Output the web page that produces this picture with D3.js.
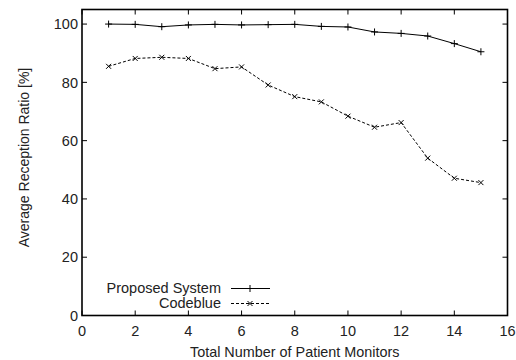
<!DOCTYPE html>
<html>
<head>
<meta charset="utf-8">
<script src="https://cdn.jsdelivr.net/npm/d3@7"></script>
<style>
  body { margin: 0; background: #fff; }
  text { font-family: "Liberation Sans", Arial, sans-serif; fill: #222; }
</style>
</head>
<body>
<div id="chart"></div>
<script>
// data
const monitors = [1, 2, 3, 4, 5, 6, 7, 8, 9, 10, 11, 12, 13, 14, 15];
const proposed = [100, 99.9, 99.1, 99.7, 99.9, 99.7, 99.8, 99.9, 99.2, 99.0, 97.3, 96.8, 95.9, 93.3, 90.5];
const codeblue = [85.5, 88.2, 88.6, 88.2, 84.7, 85.3, 79.1, 75.1, 73.3, 68.4, 64.6, 66.2, 54.0, 47.1, 45.6];
const xTicks = [0, 2, 4, 6, 8, 10, 12, 14, 16];
const yTicks = [0, 20, 40, 60, 80, 100];
const seriesNames = ["Proposed System", "Codeblue"];

function main() {
    const width = 516;
    const height = 360;
    const margin = { left: 82, right: 8.5, top: 9.5, bottom: 44.5 };

    const svg = d3.select('#chart').append('svg')
        .attr('width', width)
        .attr('height', height);

    const x = d3.scaleLinear().domain([0, 16]).range([margin.left, width - margin.right]);
    const y = d3.scaleLinear().domain([0, 105]).range([height - margin.bottom, margin.top]);

    const fontSize = '14.5px';
    const tickLen = 5;

    // tick marks on all four sides, pointing inward
    const ticks = svg.append('g').attr('stroke', '#000').attr('stroke-width', 1);
    xTicks.forEach(t => {
        ticks.append('line').attr('x1', x(t)).attr('x2', x(t))
            .attr('y1', y(0)).attr('y2', y(0) - tickLen);
        ticks.append('line').attr('x1', x(t)).attr('x2', x(t))
            .attr('y1', y(105)).attr('y2', y(105) + tickLen);
    });
    yTicks.forEach(t => {
        ticks.append('line').attr('x1', x(0)).attr('x2', x(0) + tickLen)
            .attr('y1', y(t)).attr('y2', y(t));
        ticks.append('line').attr('x1', x(16)).attr('x2', x(16) - tickLen)
            .attr('y1', y(t)).attr('y2', y(t));
    });

    // tick labels
    svg.append('g').selectAll('text')
        .data(xTicks).enter().append('text')
        .attr('x', d => x(d))
        .attr('y', 335.5)
        .style('text-anchor', 'middle')
        .style('font-size', fontSize)
        .text(d => d);

    svg.append('g').selectAll('text')
        .data(yTicks).enter().append('text')
        .attr('x', 78)
        .attr('y', d => y(d))
        .attr('dy', '0.36em')
        .style('text-anchor', 'end')
        .style('font-size', fontSize)
        .text(d => d);

    // frame
    svg.append('rect')
        .attr('x', x(0)).attr('y', y(105))
        .attr('width', x(16) - x(0)).attr('height', y(0) - y(105))
        .attr('fill', 'none').attr('stroke', '#000').attr('stroke-width', 1.6);

    // axis titles
    svg.append('text')
        .attr('x', (x(0) + x(16)) / 2)
        .attr('y', 357)
        .style('text-anchor', 'middle')
        .style('font-size', '14.4px')
        .text('Total Number of Patient Monitors');

    svg.append('text')
        .attr('transform', 'translate(29,157.5) rotate(-90)')
        .style('text-anchor', 'middle')
        .style('font-size', '14px')
        .text('Average Reception Ratio [%]');

    const line = d3.line().x(d => x(d[0])).y(d => y(d[1]));
    const plusPath = s => `M${-s},0H${s}M0,${-s}V${s}`;
    const crossPath = s => `M${-s},${-s}L${s},${s}M${-s},${s}L${s},${-s}`;

    const series = [
        { name: seriesNames[0], values: monitors.map((m, i) => [m, proposed[i]]), dash: null, marker: plusPath(3.5) },
        { name: seriesNames[1], values: monitors.map((m, i) => [m, codeblue[i]]), dash: '3,2', marker: crossPath(2.5) }
    ];

    series.forEach(s => {
        svg.append('path')
            .datum(s.values)
            .attr('d', line)
            .attr('fill', 'none')
            .attr('stroke', '#000')
            .attr('stroke-width', 1)
            .attr('stroke-dasharray', s.dash);
        svg.append('g').selectAll('path')
            .data(s.values).enter().append('path')
            .attr('transform', d => 'translate(' + x(d[0]) + ',' + y(d[1]) + ')')
            .attr('d', s.marker)
            .attr('stroke', '#000')
            .attr('stroke-width', 1)
            .attr('fill', 'none');
    });

    // legend
    const legendY = [288.5, 303.5];
    series.forEach((s, i) => {
        svg.append('text')
            .attr('x', 221)
            .attr('y', legendY[i] + 4)
            .style('text-anchor', 'end')
            .style('font-size', fontSize)
            .text(s.name);
        svg.append('line')
            .attr('x1', 231).attr('x2', 270)
            .attr('y1', legendY[i]).attr('y2', legendY[i])
            .attr('stroke', '#000').attr('stroke-width', 1)
            .attr('stroke-dasharray', s.dash);
        svg.append('path')
            .attr('transform', 'translate(250,' + legendY[i] + ')')
            .attr('d', s.marker)
            .attr('stroke', '#000').attr('stroke-width', 1).attr('fill', 'none');
    });
}

main();
</script>
</body>
</html>
